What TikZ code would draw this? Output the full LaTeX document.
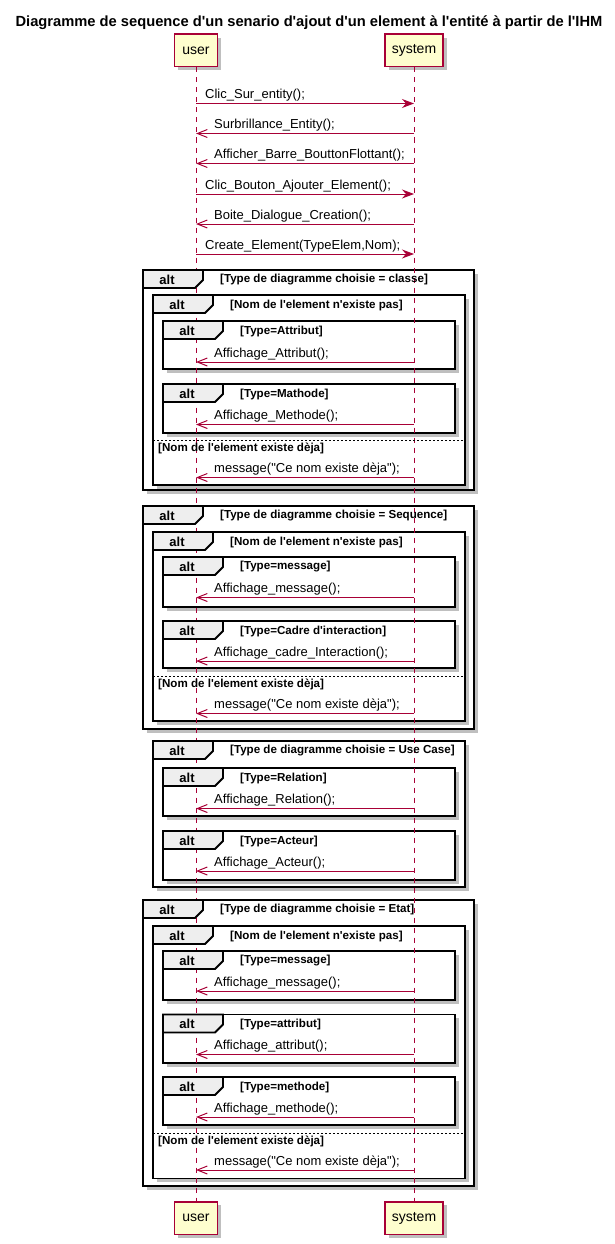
\documentclass[tikz,border=0pt]{standalone}
\usepackage{fontspec}
\setmainfont{Liberation Sans}[Ligatures=TeXOff]
\usetikzlibrary{arrows.meta,shadows}
\definecolor{plred}{HTML}{A80036}
\definecolor{plfill}{HTML}{FEFECE}
\definecolor{pltab}{HTML}{EEEEEE}
\tikzset{
  x=1pt, y=-1pt,
  softshadow/.style={drop shadow={shadow xshift=3.5pt, shadow yshift=-3.5pt, fill=black, opacity=0.25}},
  part/.style={draw=plred, line width=1.5pt, fill=plfill, minimum width=#1, minimum height=32.5pt,
    inner sep=0pt, font=\fontsize{14}{16}\selectfont, softshadow},
  lifeline/.style={draw=plred, line width=1pt, dash pattern=on 5pt off 5pt},
  syncmsg/.style={draw=plred, line width=1pt, -{Stealth[length=12pt,width=9pt,inset=4pt]}},
  retmsg/.style={draw=plred, line width=1pt, -{Straight Barb[length=10pt,width=8pt]}},
  msgtext/.style={anchor=base west, inner sep=0pt, font=\fontsize{13}{15}\selectfont},
  framebox/.style={draw=black, line width=1.8pt, fill=white, softshadow},
  tabbox/.style={draw=black, line width=1.8pt, fill=pltab},
  alttext/.style={font=\bfseries\fontsize{13}{15}\selectfont, inner sep=0pt},
  guardtext/.style={anchor=west, inner sep=0pt, font=\bfseries\fontsize{11.6}{13}\selectfont},
  elsesep/.style={draw=black, line width=1pt, dash pattern=on 2pt off 2pt},
  titletext/.style={font=\bfseries\fontsize{14.7}{17}\selectfont, inner sep=0pt}
}
\newcommand\altframe[4]{\filldraw[framebox] (#1,#2) rectangle (#3,#4);}
\newcommand\alttab[4]{%
  \filldraw[tabbox] (#2,#3) -- (#2+60,#3) -- (#2+60,#3+10) -- (#2+52,#3+18) -- (#2,#3+18) -- cycle;
  \node[alttext] (#1a) at (#2+24,#3+9.5) {alt};
  \node[guardtext] (#1g) at (#2+77,#3+10) {#4};
}
\newcommand\elseline[4]{% name y L R
  \coordinate (#1l) at (#3,#2); \coordinate (#1r) at (#4,#2);
  \draw[elsesep] (#1l) -- (#1r);
  \node[guardtext] (#1g) at (#3+5,#2+8.5) {[Nom de l'element existe dèja]};
}
\newcommand\smsg[3]{%
  \coordinate (#1u) at (196,#2); \coordinate (#1s) at (414,#2);
  \draw[syncmsg] (#1u) -- (#1s);
  \node[msgtext] (#1t) at (205,#2-4.5) {#3};
}
\newcommand\rmsg[3]{%
  \coordinate (#1s) at (414,#2); \coordinate (#1u) at (196,#2);
  \draw[retmsg] (#1s) -- (#1u);
  \node[msgtext] (#1t) at (214,#2-5) {#3};
}
\begin{document}
\begin{tikzpicture}
\useasboundingbox (0,0) rectangle (615,1244);
\node[titletext] (title) at (309,23) {Diagramme de sequence d'un senario d'ajout d'un element à l'entité à partir de l'IHM};
% frames
\altframe{143}{270}{474}{490}
\altframe{153}{295}{465}{485}
\altframe{163}{321}{455}{369}
\altframe{163}{384}{455}{433}
\altframe{143}{506}{474}{729}
\altframe{153}{532}{465}{721}
\altframe{163}{557}{455}{607}
\altframe{163}{621}{455}{668}
\altframe{153}{741}{465}{887}
\altframe{163}{768}{455}{816}
\altframe{163}{831}{455}{880}
\altframe{143}{900}{474}{1186}
\altframe{153}{926}{465}{1178.5}
\altframe{163}{951}{455}{1000}
\altframe{163}{1014.5}{455}{1063}
\altframe{163}{1077}{455}{1125}
% participants
\node[part=43pt] (u1) at (196,50.5) {user};
\node[part=58pt] (s1) at (414,50.5) {system};
\node[part=43pt] (u2) at (196,1218) {user};
\node[part=58pt] (s2) at (414,1218) {system};
\draw[lifeline] (u1.south) -- (u2.north);
\draw[lifeline] (s1.south) -- (s2.north);
% tabs
\alttab{fa1}{143}{270}{[Type de diagramme choisie = classe]}
\alttab{fa2}{153}{295}{[Nom de l'element n'existe pas]}
\alttab{fa3}{163}{321}{[Type=Attribut]}
\alttab{fa4}{163}{384}{[Type=Mathode]}
\elseline{ea}{440}{153}{465}
\alttab{fb1}{143}{506}{[Type de diagramme choisie = Sequence]}
\alttab{fb2}{153}{532}{[Nom de l'element n'existe pas]}
\alttab{fb3}{163}{557}{[Type=message]}
\alttab{fb4}{163}{621}{[Type=Cadre d'interaction]}
\elseline{eb}{676}{153}{465}
\alttab{fc1}{153}{741}{[Type de diagramme choisie = Use Case]}
\alttab{fc2}{163}{768}{[Type=Relation]}
\alttab{fc3}{163}{831}{[Type=Acteur]}
\alttab{fd1}{143}{900}{[Type de diagramme choisie = Etat]}
\alttab{fd2}{153}{926}{[Nom de l'element n'existe pas]}
\alttab{fd3}{163}{951}{[Type=message]}
\alttab{fd4}{163}{1014.5}{[Type=attribut]}
\alttab{fd5}{163}{1077}{[Type=methode]}
\elseline{ed}{1133}{153}{465}
% messages
\smsg{m1}{103.5}{Clic\_Sur\_entity();}
\rmsg{m2}{133.5}{Surbrillance\_Entity();}
\rmsg{m3}{163.5}{Afficher\_Barre\_BouttonFlottant();}
\smsg{m4}{194}{Clic\_Bouton\_Ajouter\_Element();}
\rmsg{m5}{224}{Boite\_Dialogue\_Creation();}
\smsg{m6}{254}{Create\_Element(TypeElem,Nom);}
\rmsg{m7}{362}{Affichage\_Attribut();}
\rmsg{m8}{424.5}{Affichage\_Methode();}
\rmsg{m9}{477.5}{message("Ce nom existe dèja");}
\rmsg{m10}{597.5}{Affichage\_message();}
\rmsg{m11}{661}{Affichage\_cadre\_Interaction();}
\rmsg{m12}{713.5}{message("Ce nom existe dèja");}
\rmsg{m13}{808.5}{Affichage\_Relation();}
\rmsg{m14}{871}{Affichage\_Acteur();}
\rmsg{m15}{991}{Affichage\_message();}
\rmsg{m16}{1054.5}{Affichage\_attribut();}
\rmsg{m17}{1117}{Affichage\_methode();}
\rmsg{m18}{1170}{message("Ce nom existe dèja");}
\end{tikzpicture}
\end{document}
